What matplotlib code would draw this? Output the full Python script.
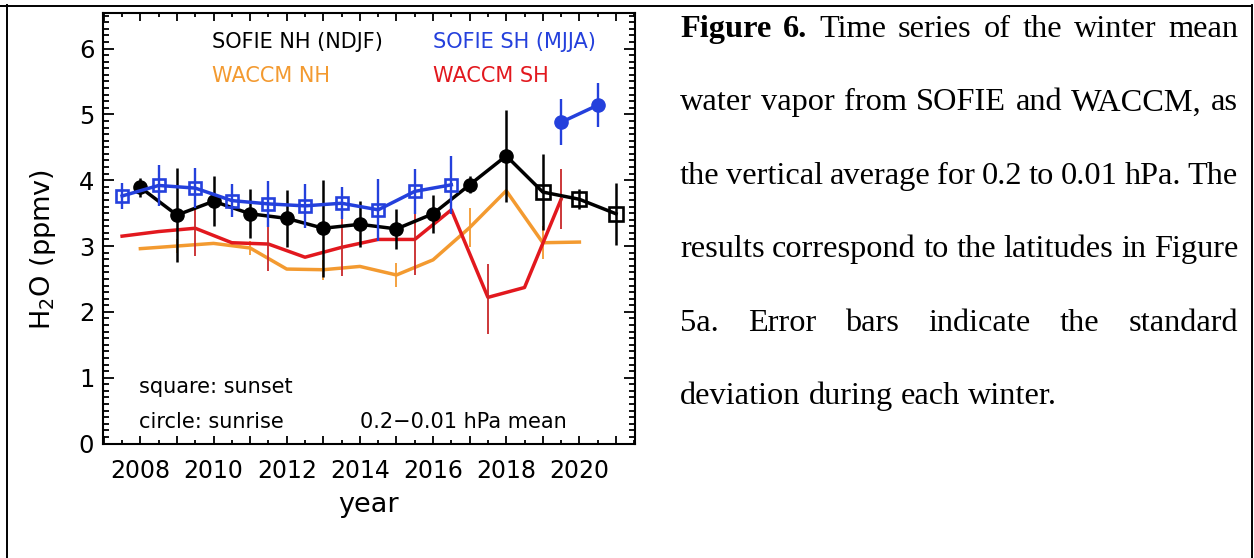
import matplotlib
matplotlib.use("Agg")
import matplotlib.pyplot as plt
from matplotlib.ticker import MultipleLocator, FuncFormatter
from matplotlib.lines import Line2D

W, H = 1254, 558

# SOFIE NH (NDJF): circles = sunrise, squares = sunset
nh_sr_years = [2008, 2009, 2010, 2011, 2012, 2013, 2014, 2015, 2016, 2017, 2018]
nh_sr_h2o = [3.89, 3.47, 3.68, 3.49, 3.42, 3.27, 3.33, 3.26, 3.49, 3.93, 4.37]
nh_sr_err = [0.14, 0.71, 0.38, 0.37, 0.43, 0.74, 0.35, 0.30, 0.29, 0.13, 0.70]
nh_ss_years = [2019, 2020, 2021]
nh_ss_h2o = [3.82, 3.71, 3.49]
nh_ss_err = [0.58, 0.15, 0.47]

# SOFIE SH (MJJA)
sh_ss_years = [2007.5, 2008.5, 2009.5, 2010.5, 2011.5, 2012.5, 2013.5, 2014.5, 2015.5, 2016.5]
sh_ss_h2o = [3.76, 3.92, 3.88, 3.69, 3.64, 3.61, 3.65, 3.55, 3.83, 3.93]
sh_ss_err = [0.20, 0.31, 0.30, 0.25, 0.35, 0.33, 0.24, 0.47, 0.34, 0.44]
sh_sr_years = [2019.5, 2020.5]
sh_sr_h2o = [4.88, 5.14]
sh_sr_err = [0.35, 0.33]

# WACCM NH
waccm_nh_years = [2008, 2009, 2010, 2011, 2012, 2013, 2014, 2015, 2016, 2017, 2018, 2019, 2020]
waccm_nh_h2o = [2.96, 3.00, 3.04, 2.97, 2.65, 2.64, 2.69, 2.56, 2.79, 3.28, 3.84, 3.05, 3.06]
waccm_nh_err_years = [2009, 2011, 2013, 2015, 2017, 2019]
waccm_nh_err = [0.10, 0.10, 0.15, 0.18, 0.30, 0.25]

# WACCM SH
waccm_sh_years = [2007.5, 2008.5, 2009.5, 2010.5, 2011.5, 2012.5, 2013.5, 2014.5, 2015.5,
                  2016.5, 2017.5, 2018.5, 2019.5]
waccm_sh_h2o = [3.15, 3.22, 3.27, 3.05, 3.03, 2.83, 2.98, 3.10, 3.10, 3.55, 2.22, 2.37, 3.71]
waccm_sh_err_years = [2009.5, 2011.5, 2013.5, 2015.5, 2017.5, 2019.5]
waccm_sh_err_lo = [0.42, 0.41, 0.43, 0.54, 0.56, 0.45]
waccm_sh_err_hi = [0.39, 0.42, 0.43, 1.04, 0.50, 0.46]

caption_lines = [
    [("Figure", "bold"), ("6.", "bold"), "Time", "series", "of", "the", "winter", "mean"],
    ["water", "vapor", "from", "SOFIE", "and", "WACCM,", "as"],
    ["the", "vertical", "average", "for", "0.2", "to", "0.01", "hPa.", "The"],
    ["results", "correspond", "to", "the", "latitudes", "in", "Figure"],
    ["5a.", "Error", "bars", "indicate", "the", "standard"],
    ["deviation", "during", "each", "winter."],
]

BLACK = "black"
BLUE = "#2440dc"
ORANGE = "#f39a30"
RED = "#e2181e"

plt.rcParams["font.family"] = ["DejaVu Sans"]


def fx(px):
    return px / W


def fy(py):
    return 1 - py / H


fig = plt.figure(figsize=(W / 100, H / 100), dpi=100)
ax = fig.add_axes([fx(102.7), fy(443.5), (635 - 102.7) / W, (443.5 - 13) / H])
ax.set_xlim(2006.97, 2021.52)
ax.set_ylim(0, 6.54)

# WACCM NH (orange)
ax.plot(waccm_nh_years, waccm_nh_h2o, color=ORANGE, lw=2.5, zorder=2)
nh_lookup = dict(zip(waccm_nh_years, waccm_nh_h2o))
ax.errorbar(waccm_nh_err_years, [nh_lookup[y] for y in waccm_nh_err_years],
            yerr=waccm_nh_err, fmt="none", ecolor=ORANGE, elinewidth=1.3, zorder=2)

# WACCM SH (red)
ax.plot(waccm_sh_years, waccm_sh_h2o, color=RED, lw=2.5, zorder=3)
sh_lookup = dict(zip(waccm_sh_years, waccm_sh_h2o))
ax.errorbar(waccm_sh_err_years, [sh_lookup[y] for y in waccm_sh_err_years],
            yerr=[waccm_sh_err_lo, waccm_sh_err_hi], fmt="none", ecolor="#c8282a",
            elinewidth=1.3, zorder=3)

# SOFIE NH (black)
ax.plot(nh_sr_years + nh_ss_years, nh_sr_h2o + nh_ss_h2o, color=BLACK, lw=2.5, zorder=4)
ax.errorbar(nh_sr_years, nh_sr_h2o, yerr=nh_sr_err, fmt="o", color=BLACK, ms=9.5,
            elinewidth=1.8, zorder=4)
ax.errorbar(nh_ss_years, nh_ss_h2o, yerr=nh_ss_err, fmt="s", color=BLACK, mfc="none",
            ms=10, mew=1.9, elinewidth=1.8, zorder=4)

# SOFIE SH (blue)
ax.plot(sh_ss_years, sh_ss_h2o, color=BLUE, lw=2.5, zorder=5)
ax.errorbar(sh_ss_years, sh_ss_h2o, yerr=sh_ss_err, fmt="s", color=BLUE, mfc="none",
            ms=9, mew=1.9, elinewidth=1.7, zorder=5)
ax.plot(sh_sr_years, sh_sr_h2o, color=BLUE, lw=2.5, zorder=5)
ax.errorbar(sh_sr_years, sh_sr_h2o, yerr=sh_sr_err, fmt="o", color=BLUE, ms=9.5,
            elinewidth=1.7, zorder=5)

# axes styling
for s in ax.spines.values():
    s.set_linewidth(1.5)
ax.xaxis.set_major_locator(MultipleLocator(1))
ax.xaxis.set_minor_locator(MultipleLocator(0.5))
ax.xaxis.set_major_formatter(FuncFormatter(lambda v, p: "%d" % v if round(v) % 2 == 0 else ""))
ax.yaxis.set_major_locator(MultipleLocator(1))
ax.yaxis.set_minor_locator(MultipleLocator(0.1))
ax.tick_params(which="both", direction="in", top=True, right=True, width=1.3)
ax.tick_params(axis="x", which="major", length=5.5, pad=11, labelsize=17)
ax.tick_params(axis="x", which="minor", length=3)
ax.tick_params(axis="y", which="major", length=8, pad=6, labelsize=17.5)
ax.tick_params(axis="y", which="minor", length=4)

fig.text(fx(43), fy(249), "H$_2$O (ppmv)", rotation=90, ha="center", va="center", fontsize=19.5)
fig.text(fx(369), fy(505), "year", ha="center", va="center", fontsize=19.5)

# in-plot labels
fs = 15
fig.text(fx(211.7), fy(41.7), "SOFIE NH (NDJF)", color=BLACK, fontsize=fs, va="center")
fig.text(fx(211.7), fy(76), "WACCM NH", color=ORANGE, fontsize=fs, va="center")
fig.text(fx(433), fy(41.7), "SOFIE SH (MJJA)", color=BLUE, fontsize=fs, va="center")
fig.text(fx(433), fy(76), "WACCM SH", color=RED, fontsize=fs, va="center")
fig.text(fx(139.3), fy(386.7), "square: sunset", fontsize=fs, va="center")
fig.text(fx(139.3), fy(421.7), "circle: sunrise", fontsize=fs, va="center")
fig.text(fx(360), fy(421.7), "0.2\u22120.01 hPa mean", fontsize=fs, va="center")

# outer box (top, left, right)
for xs, ys in [([0, 1252], [5.5, 5.5]), ([6.5, 6.5], [5, 558]), ([1251.5, 1251.5], [5, 558])]:
    fig.add_artist(Line2D([fx(v) for v in xs], [fy(v) for v in ys], color="black", lw=1.4))

# justified caption
renderer = fig.canvas.get_renderer()
cap_left, cap_right = 680, 1238
base0, step = 37, 73.4
cap_size = 23.3
for i, words in enumerate(caption_lines):
    items = [w if isinstance(w, tuple) else (w, "normal") for w in words]
    texts = [fig.text(0, fy(base0 + i * step), t, fontsize=cap_size, family="Liberation Serif",
                      weight=wt, va="baseline") for t, wt in items]
    widths = [t.get_window_extent(renderer).width for t in texts]
    if i == len(caption_lines) - 1:
        gap_w = cap_size * 100 / 72 * 0.25
    else:
        gap_w = (cap_right - cap_left - sum(widths)) / (len(texts) - 1)
    x = cap_left
    for t, w in zip(texts, widths):
        t.set_x(fx(x))
        x += w + gap_w

fig.savefig("out.png", dpi=100)
